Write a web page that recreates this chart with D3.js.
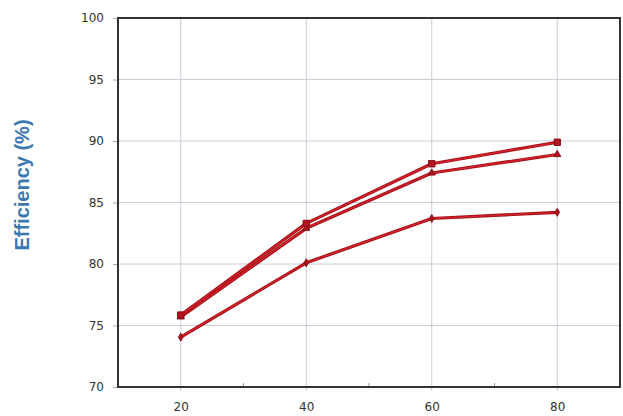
<!DOCTYPE html>
<html><head><meta charset="utf-8">
<script src="https://cdn.jsdelivr.net/npm/d3@7"></script>
<style>body{margin:0;background:#fff}svg{display:block}</style>
</head><body>
<svg id="c" width="623" height="416"></svg>
<script>
const xValues = [20, 40, 60, 80];
const seriesA = [75.85, 83.3, 88.15, 89.9];
const seriesB = [75.7, 82.9, 87.4, 88.9];
const seriesC = [74.05, 80.1, 83.7, 84.2];
const yTicks = [70, 75, 80, 85, 90, 95, 100];
const xTicks = [20, 40, 60, 80];
const xMinorTicks = [30, 50, 70];
const yLabel = "Efficiency (%)";

const svg = d3.select("#c");
const L = 118, R = 620, T = 18, B = 387;
const x = d3.scaleLinear().domain([10, 90]).range([L, R]);
const y = d3.scaleLinear().domain([70, 100]).range([B, T]);

// grid
svg.append("g").selectAll("line").data(yTicks.slice(1, -1)).join("line")
  .attr("x1", L).attr("x2", R).attr("y1", d => y(d)).attr("y2", d => y(d))
  .attr("stroke", "#c9ccd6").attr("stroke-width", 1);
svg.append("g").selectAll("line").data(xTicks).join("line")
  .attr("x1", d => x(d)).attr("x2", d => x(d)).attr("y1", T).attr("y2", B + 4)
  .attr("stroke", "#c9ccd6").attr("stroke-width", 1);
svg.append("g").selectAll("line").data(xMinorTicks).join("line")
  .attr("x1", d => x(d)).attr("x2", d => x(d)).attr("y1", B - 4).attr("y2", B)
  .attr("stroke", "#999").attr("stroke-width", 1);

// axes
const yAxis = d3.axisLeft(y).tickValues(yTicks).tickSize(5).tickPadding(9).tickFormat(d3.format("d"));
const gy = svg.append("g").attr("transform", `translate(${L},0)`).call(yAxis);
gy.select(".domain").remove();
gy.selectAll(".tick line").attr("stroke", "#aaa");
gy.selectAll("text").attr("font-family", "'DejaVu Sans', sans-serif").attr("font-size", 12).attr("fill", "#333");

const xAxis = d3.axisBottom(x).tickValues(xTicks).tickSize(0).tickPadding(15).tickFormat(d3.format("d"));
const gx = svg.append("g").attr("transform", `translate(0,${B})`).call(xAxis);
gx.select(".domain").remove();
gx.selectAll("text").attr("font-family", "'DejaVu Sans', sans-serif").attr("font-size", 12).attr("fill", "#333");

// frame
svg.append("rect").attr("x", L).attr("y", T).attr("width", R - L).attr("height", B - T)
  .attr("fill", "none").attr("stroke", "#333").attr("stroke-width", 2);

// y label
svg.append("text").attr("transform", "translate(29,185) rotate(-90)")
  .attr("text-anchor", "middle").attr("font-family", "'Liberation Sans', Arial, sans-serif")
  .attr("font-weight", "bold").attr("font-size", 20).attr("fill", "#3d77b2").text(yLabel);

// lines
const line = d3.line().x((d, i) => x(xValues[i])).y(d => y(d));
const all = [
  {v: seriesC, sym: d3.symbolDiamond, size: 18},
  {v: seriesB, sym: d3.symbolTriangle, size: 22},
  {v: seriesA, sym: d3.symbolSquare, size: 40}
];
all.forEach(s => {
  svg.append("path").datum(s.v).attr("d", line).attr("fill", "none")
    .attr("stroke", "#9e1018").attr("stroke-width", 3.2).attr("stroke-linejoin", "round");
  svg.append("path").datum(s.v).attr("d", line).attr("fill", "none")
    .attr("stroke", "#d6202a").attr("stroke-width", 1.4).attr("stroke-linejoin", "round");
  svg.append("g").selectAll("path").data(s.v).join("path")
    .attr("transform", (d, i) => `translate(${x(xValues[i])},${y(d)})`)
    .attr("d", d3.symbol().type(s.sym).size(s.size))
    .attr("fill", "#b01520").attr("stroke", "#8a0c14").attr("stroke-width", 1);
});
</script>
</body></html>
